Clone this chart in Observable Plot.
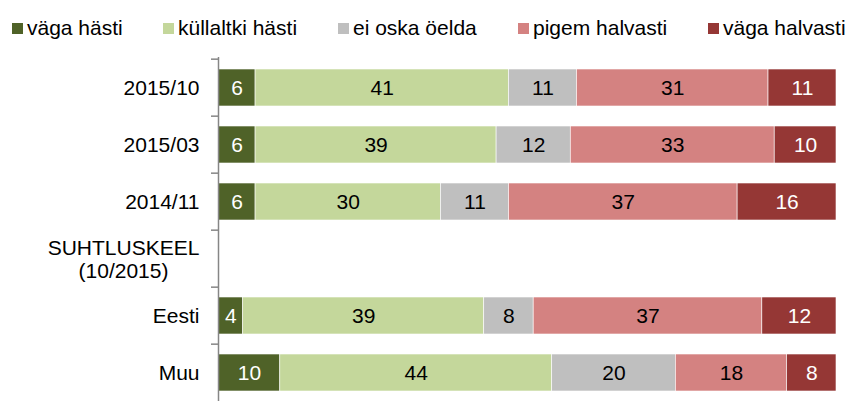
<!DOCTYPE html>
<html>
<head>
<meta charset="utf-8">
<script src="https://cdn.jsdelivr.net/npm/d3@7"></script>
<script src="https://cdn.jsdelivr.net/npm/@observablehq/plot@0.6"></script>
<style>
  html, body { margin: 0; padding: 0; background: #fff; overflow: hidden; }
  body { width: 848px; height: 401px; font-family: "Liberation Sans", Arial, sans-serif; }
  #legend { position: relative; height: 40px; }
  .li { position: absolute; top: 15px; font-size: 21px; color: #000; white-space: nowrap; line-height: 26px; }
  .sw { display: inline-block; width: 11px; height: 11px; margin-right: 4px; vertical-align: 1px; }
  #chart svg { display: block; }
</style>
</head>
<body>
<div id="legend"></div>
<div id="chart"></div>
<script>
const categories = ["2015/10", "2015/03", "2014/11", "SUHTLUSKEEL", "Eesti", "Muu"];
const groupLabel = "SUHTLUSKEEL\n(10/2015)";
const series = ["väga hästi", "küllaltki hästi", "ei oska öelda", "pigem halvasti", "väga halvasti"];
const colors = ["#4F6228", "#C4D79B", "#BFBFBF", "#D48281", "#953735"];
const textColors = ["#fff", "#000", "#000", "#000", "#fff"];
const vagaHasti      = [6, 6, 6, null, 4, 10];
const kullaltkiHasti = [41, 39, 30, null, 39, 44];
const eiOska         = [11, 12, 11, null, 8, 20];
const pigemHalvasti  = [31, 33, 37, null, 37, 18];
const vagaHalvasti   = [11, 10, 16, null, 12, 8];
const legendX = [12, 163, 338, 518, 708];

const seriesValues = [vagaHasti, kullaltkiHasti, eiOska, pigemHalvasti, vagaHalvasti];
const data = [];
categories.forEach((c, i) => {
  series.forEach((s, j) => {
    const v = seriesValues[j][i];
    if (v != null) data.push({cat: c, series: s, value: v, tc: textColors[j]});
  });
});

// legend
const leg = document.getElementById("legend");
series.forEach((s, j) => {
  const d = document.createElement("div");
  d.className = "li";
  d.style.left = legendX[j] + "px";
  d.innerHTML = `<span class="sw" style="background:${colors[j]}"></span>${s}`;
  leg.appendChild(d);
});

const H = 363, MT = 17;
const step = (H - MT) / categories.length;
const FS = 21;

const chart = Plot.plot({
  width: 848,
  height: H,
  marginTop: MT,
  marginBottom: 0,
  marginLeft: 218,
  marginRight: 12,
  style: {fontFamily: "Liberation Sans, Arial, sans-serif", fontSize: FS + "px", color: "#000", background: "#fff"},
  x: {domain: [0, 100], axis: null},
  y: {domain: categories, paddingInner: 0.345, paddingOuter: 0.1725, axis: null},
  color: {domain: series, range: colors},
  marks: [
    Plot.barX(data, Plot.stackX({x: "value", y: "cat", fill: "series", order: series, stroke: "#fff", strokeWidth: 0.6})),
    Plot.text(data, Plot.stackX({x: "value", y: "cat", z: "series", order: series, text: d => String(d.value), fill: "tc", fontSize: FS})),
    Plot.ruleX([0], {stroke: "#868686", strokeWidth: 1.5}),
    Plot.axisY({anchor: "left", tickSize: 7, dy: -step / 2, stroke: "#868686", strokeWidth: 1.5, tickFormat: () => "", label: null}),
    Plot.axisY({anchor: "left", tickSize: 0, tickPadding: 19, fontSize: FS, fill: "#000", tickFormat: d => d === "SUHTLUSKEEL" ? "" : d, label: null}),
    Plot.text(["SUHTLUSKEEL"], {y: d => d, x: 0, text: () => groupLabel, dx: -95, textAnchor: "middle", fontSize: FS, lineHeight: 1.1, fill: "#000"})
  ]
});
document.getElementById("chart").appendChild(chart);
</script>
</body>
</html>
